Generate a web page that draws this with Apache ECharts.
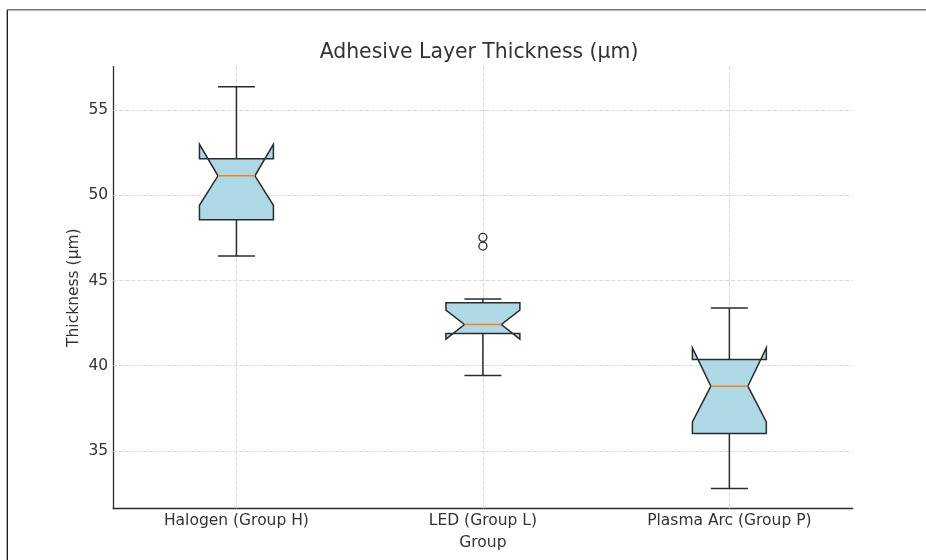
<!DOCTYPE html>
<html>
<head>
<meta charset="utf-8">
<script src="https://cdn.jsdelivr.net/npm/echarts@6/dist/echarts.min.js"></script>
<style>
  html, body { margin: 0; padding: 0; background: #ffffff; }
  #chart { width: 926px; height: 560px; }
</style>
</head>
<body>
<div id="chart"></div>
<script>
// Group names along the x axis
const categories = ['Halogen (Group H)', 'LED (Group L)', 'Plasma Arc (Group P)'];

// Five-number summaries per group (µm)
const whiskerLow  = [46.43, 39.43, 32.79];
const q1          = [48.56, 41.89, 36.02];
const median      = [51.14, 42.42, 38.80];
const q3          = [52.14, 43.69, 40.37];
const whiskerHigh = [56.37, 43.92, 43.39];

// Confidence interval around the median (notch limits)
const notchLow  = [49.41, 41.56, 36.70];
const notchHigh = [52.99, 43.26, 41.05];

// Outlying observations: group index and value
const outlierGroup  = [1, 1];
const outlierValues = [47.53, 47.02];

// Y axis range and tick labels
const yMin = 31.61;
const yMax = 57.55;
const yTicks = [35, 40, 45, 50, 55];

const boxData = categories.map((c, i) => [
  i, whiskerLow[i], q1[i], median[i], q3[i], whiskerHigh[i], notchLow[i], notchHigh[i]
]);
const outlierData = outlierGroup.map((g, k) => [g, outlierValues[k]]);

const EDGE = '#2b2b2b';
const FONT = 'DejaVu Sans';

function renderBox(params, api) {
  const i = api.value(0);
  const band = api.size([1, 0])[0];
  const w = band * 0.3;
  const cx = api.coord([i, yMin])[0];
  const Y = v => api.coord([i, v])[1];
  const L = cx - w / 2, R = cx + w / 2;
  const cl = cx - w / 4, cr = cx + w / 4;
  const yLo = Y(api.value(1)), yQ1 = Y(api.value(2)), yMed = Y(api.value(3));
  const yQ3 = Y(api.value(4)), yHi = Y(api.value(5));
  const yNl = Y(api.value(6)), yNh = Y(api.value(7));
  const ls = { stroke: EDGE, lineWidth: 1.5 };
  return {
    type: 'group',
    children: [
      { type: 'line', shape: { x1: cx, y1: yQ1, x2: cx, y2: yLo }, style: ls },
      { type: 'line', shape: { x1: cx, y1: yQ3, x2: cx, y2: yHi }, style: ls },
      { type: 'line', shape: { x1: cl, y1: yLo, x2: cr, y2: yLo }, style: ls },
      { type: 'line', shape: { x1: cl, y1: yHi, x2: cr, y2: yHi }, style: ls },
      {
        type: 'polygon',
        shape: {
          points: [
            [L, yQ1], [L, yNl], [cl, yMed], [L, yNh], [L, yQ3],
            [R, yQ3], [R, yNh], [cr, yMed], [R, yNl], [R, yQ1]
          ]
        },
        style: { fill: '#add8e6', stroke: EDGE, lineWidth: 1.5, lineJoin: 'miter' }
      },
      { type: 'line', shape: { x1: cl, y1: yMed, x2: cr, y2: yMed }, style: { stroke: '#ff7f0e', lineWidth: 1.5 } }
    ]
  };
}

const gridLineStyle = { color: '#cfcfcf', width: 0.8, type: [4, 2] };

const chart = echarts.init(document.getElementById('chart'), null, { renderer: 'canvas' });
chart.setOption({
  animation: false,
  backgroundColor: '#ffffff',
  textStyle: { fontFamily: FONT },
  grid: { left: 113.2, top: 66.6, width: 739.4, height: 442.1, containLabel: false },
  xAxis: {
    type: 'category',
    data: categories,
    boundaryGap: true,
    name: 'Group',
    nameLocation: 'middle',
    nameGap: 26,
    nameMoveOverlap: false,
    nameTextStyle: { fontSize: 15.5, color: '#333', fontFamily: FONT },
    axisLine: { show: true, lineStyle: { color: EDGE, width: 1.3 } },
    axisTick: { show: false },
    axisLabel: { margin: 4, fontSize: 15.5, color: '#333', fontFamily: FONT, interval: 0 },
    splitLine: { show: false }
  },
  yAxis: {
    type: 'value',
    min: yMin,
    max: yMax,
    name: 'Thickness (µm)',
    nameLocation: 'middle',
    nameGap: 31,
    nameMoveOverlap: false,
    nameTextStyle: { fontSize: 15.5, color: '#333', fontFamily: FONT },
    axisLine: { show: true, lineStyle: { color: EDGE, width: 1.3 } },
    axisTick: { show: false, customValues: yTicks },
    axisLabel: { margin: 5, fontSize: 15.5, color: '#333', fontFamily: FONT, customValues: yTicks },
    splitLine: { show: false }
  },
  graphic: [
    { type: 'line', shape: { x1: 7.3, y1: 9.7, x2: 7.3, y2: 560 }, style: { stroke: '#111', lineWidth: 1.3 }, silent: true },
    { type: 'line', shape: { x1: 7, y1: 9.7, x2: 926, y2: 9.7 }, style: { stroke: '#777', lineWidth: 1.5 }, silent: true },
    {
      type: 'text', x: 479, y: 43, silent: true,
      style: { text: 'Adhesive Layer Thickness (µm)', fontSize: 20.4, fontFamily: FONT, fill: '#333', align: 'center', verticalAlign: 'top' }
    }
  ],
  series: [
    {
      name: 'grid',
      type: 'line',
      data: [],
      z: 1,
      silent: true,
      markLine: {
        z: 1,
        silent: true,
        symbol: ['none', 'none'],
        label: { show: false },
        lineStyle: gridLineStyle,
        emphasis: { disabled: true },
        data: [
          ...yTicks.map(v => ({ yAxis: v })),
          ...categories.map((c, i) => ({ xAxis: i }))
        ]
      }
    },
    {
      name: 'boxes',
      type: 'custom',
      z: 3,
      renderItem: renderBox,
      encode: { x: 0, y: [1, 2, 3, 4, 5, 6, 7] },
      data: boxData
    },
    {
      name: 'outliers',
      type: 'scatter',
      z: 4,
      symbol: 'circle',
      symbolSize: 8,
      itemStyle: { color: 'rgba(0,0,0,0)', borderColor: EDGE, borderWidth: 1.3, opacity: 1 },
      data: outlierData
    }
  ]
});
</script>
</body>
</html>
